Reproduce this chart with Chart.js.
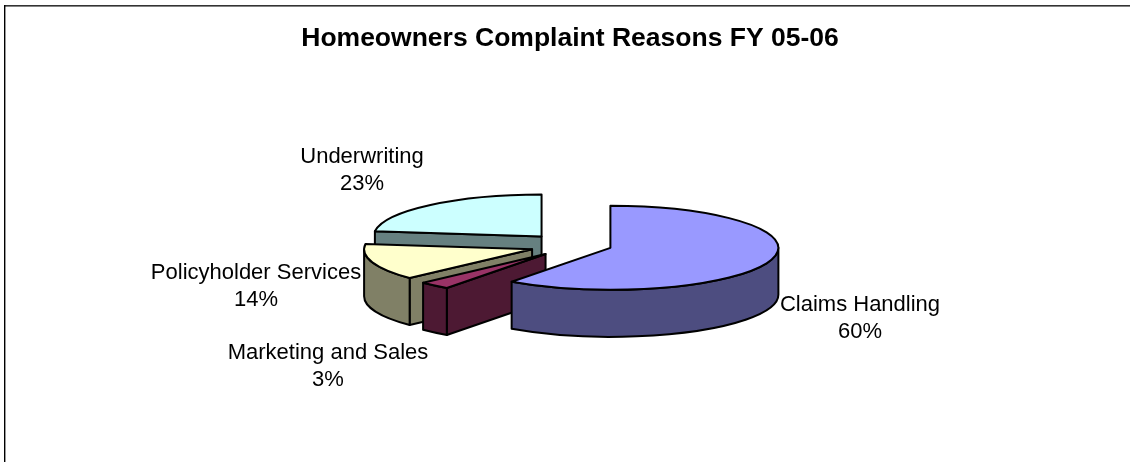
<!DOCTYPE html>
<html>
<head>
<meta charset="utf-8">
<title>Homeowners Complaint Reasons FY 05-06</title>
<script src="https://cdn.jsdelivr.net/npm/chart.js@4"></script>
<style>
  html, body { margin: 0; padding: 0; background: #fff; }
  #wrap { width: 1130px; height: 462px; }
</style>
</head>
<body>
<div id="wrap"><canvas id="chart"></canvas></div>
<script>
const categories = ['Claims Handling', 'Marketing and Sales', 'Policyholder Services', 'Underwriting'];
const shares = [60, 3, 14, 23];
const topColors = ['#9999FF', '#993366', '#FFFFCC', '#CCFFFF'];
const sideColors = ['#4D4D80', '#4D1933', '#808066', '#668080'];

const FONT = '"Liberation Sans", Arial, sans-serif';
const SQUASH = 0.25;      // vertical foreshortening of the pie's top surface
const DEPTH = 47;         // extruded height of each slice
const EXPLODE = 43;       // how far each slice is pulled from the centre
const OUTLINE = 2;

// Small per-slice shifts on top of the explosion, in pixels
const sliceShift = [[-0.5, -0.5], [4, 1], [3, 1], [0, -0.5]];

// Centre of each two-line slice label, in canvas pixels
const labelCentres = [[860, 318.5], [328, 366.5], [256, 286.5], [362, 170.5]];
const LABEL_LEADING = 27.5;

// Tilted, exploded pie: the arcs keep the angles the controller computed,
// and each one is painted back to front with its walls beneath it.
const tiltedPie = {
  id: 'tiltedPie',
  beforeDatasetsDraw(chart) {
    const { ctx } = chart;
    const arcs = chart.getDatasetMeta(0).data;
    for (let i = arcs.length - 1; i >= 0; i--) {
      const arc = arcs[i];
      const { x, y, startAngle, endAngle, outerRadius } = arc.getProps(
        ['x', 'y', 'startAngle', 'endAngle', 'outerRadius'], true);
      const mid = (startAngle + endAngle) / 2;
      const cx = x + Math.cos(mid) * EXPLODE + sliceShift[i][0];
      const cy = y + Math.sin(mid) * EXPLODE * SQUASH + sliceShift[i][1];
      const rx = outerRadius, ry = outerRadius * SQUASH;
      const px = a => cx + Math.cos(a) * rx;
      const py = a => cy + Math.sin(a) * ry;

      ctx.save();
      ctx.lineWidth = OUTLINE;
      ctx.strokeStyle = '#000';
      ctx.lineJoin = 'round';
      ctx.fillStyle = sideColors[i];

      const cutFace = a => {
        ctx.beginPath();
        ctx.moveTo(cx, cy);
        ctx.lineTo(px(a), py(a));
        ctx.lineTo(px(a), py(a) + DEPTH);
        ctx.lineTo(cx, cy + DEPTH);
        ctx.closePath();
        ctx.fill();
        ctx.stroke();
      };
      if (Math.cos(startAngle) < -1e-6) cutFace(startAngle);
      if (Math.cos(endAngle) > 1e-6) cutFace(endAngle);

      // Outer wall: only the part of the rim on the viewer's side
      const from = Math.max(startAngle, 0);
      const to = Math.min(endAngle, Math.PI);
      if (to > from) {
        ctx.beginPath();
        ctx.ellipse(cx, cy, rx, ry, 0, from, to);
        ctx.lineTo(px(to), py(to) + DEPTH);
        ctx.ellipse(cx, cy + DEPTH, rx, ry, 0, to, from, true);
        ctx.closePath();
        ctx.fill();
        ctx.stroke();
      }

      // Top surface, filled by the arc element under a squashed transform
      ctx.save();
      ctx.translate(cx, cy);
      ctx.scale(1, SQUASH);
      ctx.translate(-x, -y);
      arc.draw(ctx);
      ctx.restore();

      ctx.beginPath();
      ctx.moveTo(cx, cy);
      ctx.ellipse(cx, cy, rx, ry, 0, startAngle, endAngle);
      ctx.closePath();
      ctx.stroke();
      ctx.restore();
    }
    return false;
  },
  afterDraw(chart) {
    const { ctx } = chart;
    ctx.save();

    // Frame along the top and left edges
    ctx.fillStyle = '#333';
    ctx.fillRect(4, 5, chart.width - 4, 1.6);
    ctx.fillStyle = '#000';
    ctx.fillRect(4, 5, 1.4, chart.height - 5);

    // Slice labels: category name above its percentage
    ctx.fillStyle = '#000';
    ctx.font = '22px ' + FONT;
    ctx.textAlign = 'center';
    ctx.textBaseline = 'middle';
    categories.forEach((name, i) => {
      const [lx, ly] = labelCentres[i];
      ctx.fillText(name, lx, ly - LABEL_LEADING / 2);
      ctx.fillText(shares[i] + '%', lx, ly + LABEL_LEADING / 2);
    });
    ctx.restore();
  }
};

new Chart(document.getElementById('chart'), {
  type: 'pie',
  data: {
    labels: categories,
    datasets: [{
      data: shares,
      backgroundColor: topColors,
      borderWidth: 0,
      radius: 168
    }]
  },
  options: {
    responsive: true,
    maintainAspectRatio: false,
    animation: false,
    layout: { padding: { left: 10, right: 0, top: 0, bottom: 28.8 } },
    plugins: {
      legend: { display: false },
      tooltip: { enabled: false },
      title: {
        display: true,
        text: 'Homeowners Complaint Reasons FY 05-06',
        color: '#000',
        font: { family: FONT, size: 26.5, weight: 'bold', lineHeight: 1.2 },
        padding: { top: 23, bottom: 2 }
      }
    }
  },
  plugins: [tiltedPie]
});
</script>
</body>
</html>
